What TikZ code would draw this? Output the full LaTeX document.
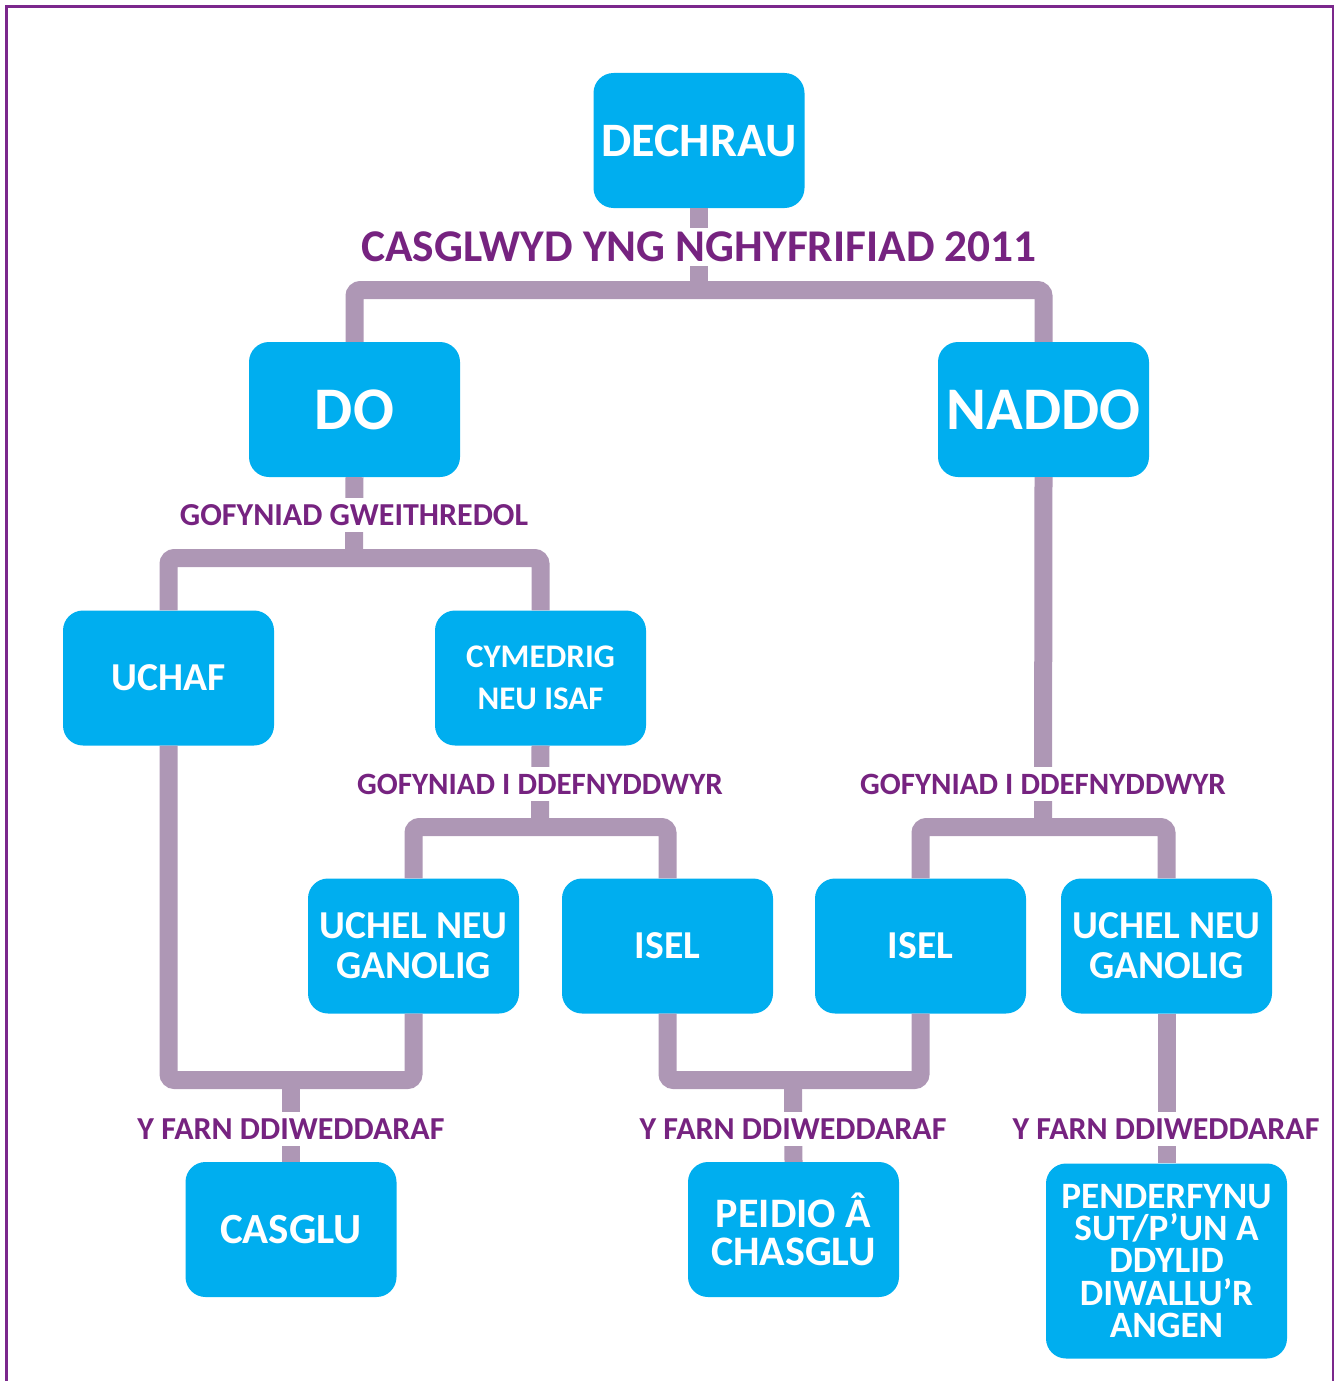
\documentclass[tikz,border=0pt]{standalone}
\usepackage{fontspec}
\setmainfont{Carlito}
\definecolor{boxblue}{RGB}{0,174,239}
\definecolor{connc}{RGB}{174,151,181}
\definecolor{labpurple}{RGB}{118,35,128}
\definecolor{bordc}{RGB}{123,40,140}
\newcommand\myfs[2]{\fontsize{#1}{#2}\selectfont}
\begin{document}
\begin{tikzpicture}[x=1pt,y=-1pt,
  box/.style={fill=boxblue, rounded corners=20pt, text=white, align=center,
    minimum width=211pt, minimum height=135pt, inner sep=0pt, font=\bfseries\myfs{39.6}{40}},
  conn/.style={draw=connc, line width=18pt, rounded corners=6pt},
  lab/.style={fill=white, text=labpurple, inner xsep=2pt, inner ysep=6.5pt, font=\bfseries\myfs{32}{32}},
  labq/.style={lab, font=\bfseries\myfs{31}{31}}]
\useasboundingbox (0,0) rectangle (1339,1381);
\draw[bordc, line width=2.5pt] (6.5,1381) -- (6.5,6.5) -- (1333,6.5) -- (1333,1381);

% boxes
\node[box, font=\bfseries\myfs{48}{48}] (dech) at (699,140.5) {DECHRAU};
\node[box, font=\bfseries\myfs{60.5}{60}] (do) at (354.5,409.5) {DO};
\node[box, font=\bfseries\myfs{60.5}{60}] (naddo) at (1043.5,409.5) {NADDO};
\node[box] (uchaf) at (168.5,678) {UCHAF};
\node[box, font=\bfseries\myfs{33}{42}] (cym) at (540.5,678) {CYMEDRIG\\NEU ISAF};
\node[box] (uch1) at (413.5,946) {UCHEL NEU\\GANOLIG};
\node[box] (isel1) at (667.5,946) {ISEL};
\node[box] (isel2) at (920.5,946) {ISEL};
\node[box] (uch2) at (1166.5,946) {UCHEL NEU\\GANOLIG};
\node[box, font=\bfseries\myfs{43}{43}] (casglu) at (291,1229.5) {CASGLU};
\node[box, font=\bfseries\myfs{42}{38}] (peidio) at (793.5,1229.5) {PEIDIO Â\\CHASGLU};
\node[box, minimum width=241pt, minimum height=195pt, font=\bfseries\myfs{37.2}{32.3}] (pend) at (1166.5,1261)
  {PENDERFYNU\\SUT/P’UN A\\DDYLID\\DIWALLU’R\\ANGEN};

% junction coordinates
\coordinate (j1) at (699,290);
\coordinate (j2) at (354,558);
\coordinate (j3) at (540,827);
\coordinate (j4) at (1043,827);
\coordinate (j5) at (291,1080);
\coordinate (j6) at (793,1080);

% connectors
\draw[conn] (dech.south) -- (j1);
\draw[conn] (do.north) -- (do.north |- j1) -- (naddo.north |- j1) -- (naddo.north);
\draw[conn] (do.south) -- (j2);
\draw[conn] (uchaf.north) -- (uchaf.north |- j2) -- (cym.north |- j2) -- (cym.north);
\draw[conn] (cym.south) -- (j3);
\draw[conn] (uch1.north) -- (uch1.north |- j3) -- (isel1.north |- j3) -- (isel1.north);
\draw[conn] (naddo.south) -- (j4);
\draw[conn] (isel2.north) -- (isel2.north |- j4) -- (uch2.north |- j4) -- (uch2.north);
\draw[conn] (uchaf.south) -- (uchaf.south |- j5) -- (uch1.south |- j5) -- (uch1.south);
\draw[conn] (j5) -- (casglu.north);
\draw[conn] (isel1.south) -- (isel1.south |- j6) -- (isel2.south |- j6) -- (isel2.south);
\draw[conn] (j6) -- (peidio.north);
\draw[conn] (uch2.south) -- (pend.north);

% labels
\node[lab, inner ysep=4pt, font=\bfseries\myfs{45.4}{45}] (l1) at (699,247) {CASGLWYD YNG NGHYFRIFIAD 2011};
\node[lab] (l2) at (354,515) {GOFYNIAD GWEITHREDOL};
\node[labq] (l3) at (540,784) {GOFYNIAD I DDEFNYDDWYR};
\node[labq] (l4) at (1043,784) {GOFYNIAD I DDEFNYDDWYR};
\node[lab] (l5) at (291,1129) {Y FARN DDIWEDDARAF};
\node[lab] (l6) at (793,1129) {Y FARN DDIWEDDARAF};
\node[lab] (l7) at (1166,1129) {Y FARN DDIWEDDARAF};
\end{tikzpicture}
\end{document}
